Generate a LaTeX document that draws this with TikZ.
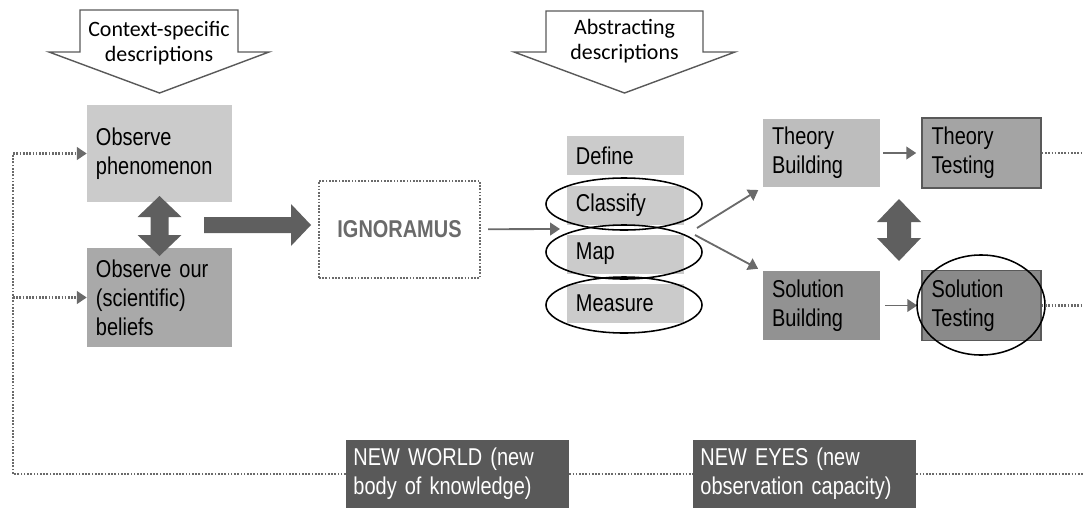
\documentclass[tikz,border=0pt]{standalone}
\usepackage{fontspec}
\usetikzlibrary{arrows.meta, shapes.geometric}
\newfontfamily\calib{Carlito}
\newfontfamily\narrow[FakeStretch=0.82]{Liberation Sans}
\newcommand{\narrowtext}{\narrow\fontsize{17.3}{20.5}\selectfont\fontdimen2\font=3.2pt\relax}
\definecolor{boxlight}{HTML}{CBCBCB}
\definecolor{boxmid}{HTML}{A9A9A9}
\definecolor{theolight}{HTML}{BDBDBD}
\definecolor{theodark}{HTML}{A4A4A4}
\definecolor{sollight}{HTML}{929292}
\definecolor{soldark}{HTML}{8A8A8A}
\definecolor{newgray}{HTML}{595959}
\definecolor{fatgray}{HTML}{5F5F5F}
\definecolor{linkgray}{HTML}{6A6A6A}
\definecolor{dotgray}{HTML}{6A6A6A}

\begin{document}
\begin{tikzpicture}[x=0.025cm, y=-0.025cm,
  box/.style={rectangle, inner xsep=0.225cm, inner ysep=0pt, align=left, font=\narrowtext},
  listbox/.style={box, fill=boxlight, minimum width=2.925cm, text width=2.475cm, minimum height=0.975cm},
  stagebox/.style={box, minimum width=2.925cm, text width=2.475cm, minimum height=1.7cm},
  testbox/.style={box, draw=newgray, line width=1.1pt, minimum width=2.975cm, text width=2.5cm, minimum height=1.75cm},
  newbox/.style={box, fill=newgray, text=white, minimum width=5.575cm, text width=5.2cm, minimum height=1.7cm, inner xsep=0.18cm},
  ring/.style={ellipse, draw, line width=1.1pt},
  desc/.style={align=center, font=\calib\fontsize{15.6}{17.4}\selectfont},
  outline/.style={draw=newgray, line width=1pt},
  link/.style={draw=linkgray, line width=1.3pt, -{Triangle[length=7pt,width=9pt]}},
  loopline/.style={draw=dotgray, line width=1.6pt, dash pattern=on 1.2pt off 1.1pt},
  fatlink/.style={fill=fatgray}]
  \useasboundingbox (0,0) rectangle (1083,507);

  % description arrows
  \draw[outline] (80,10) -- (238,10) -- (238,52) -- (269,52) -- (159.5,93) -- (49,52) -- (80,52) -- cycle;
  \node[desc] (ctxdesc) at (159,43) {Context-specific\\descriptions};
  \draw[outline] (546,11) -- (703,11) -- (703,52) -- (735,52) -- (624.5,93) -- (514,52) -- (546,52) -- cycle;
  \node[desc] (absdesc) at (624.5,41) {Abstracting\\descriptions};

  % observation
  \node[box, fill=boxlight, minimum width=3.625cm, text width=3.175cm, minimum height=2.425cm] (obsphen) at (159.5,153.5) {Observe\\phenomenon};
  \node[box, fill=boxmid, minimum width=3.625cm, text width=3.175cm, minimum height=2.475cm] (obsbel) at (159.5,297.5) {Observe our\\(scientific)\\beliefs};
  \fill[fatlink] (159.5,196) -- (181.5,217) -- (168.5,217) -- (168.5,235) -- (181.5,235) -- (159.5,256)
    -- (137.5,235) -- (150.5,235) -- (150.5,217) -- (137.5,217) -- cycle;

  \node[rectangle, draw=dotgray, line width=1.6pt, dash pattern=on 1.2pt off 1.1pt, minimum width=4.025cm, minimum height=2.425cm, text=linkgray, font=\narrowtext\bfseries] (ignor) at (399.5,229.5) {IGNORAMUS};
  \fill[fatlink] (204,217) -- (291,217) -- (291,204) -- (311,225) -- (291,246) -- (291,233) -- (204,233) -- cycle;

  % define, classify, map, measure
  \node[listbox] (define) at (625.5,155.5) {Define};
  \node[listbox] (classify) at (625.5,205.5) {Classify};
  \node[listbox] (map) at (625.5,254) {Map};
  \node[listbox] (measure) at (625.5,303.5) {Measure};
  \node[ring, minimum width=3.9cm, minimum height=1.3cm] (classring) at (624,204) {};
  \node[ring, minimum width=3.9cm, minimum height=1.35cm] (mapring) at (624,252) {};
  \node[ring, minimum width=3.9cm, minimum height=1.4cm] (measring) at (624,305) {};
  \coordinate (listin) at (560,229);
  \draw[link, shorten <=0.175cm] (ignor) -- (listin);

  % theory and solution
  \node[stagebox, fill=theolight] (theobuild) at (821.5,153) {Theory\\Building};
  \node[testbox, fill=theodark] (theotest) at (981.5,153) {Theory\\Testing};
  \node[stagebox, fill=sollight] (solbuild) at (821.5,305.5) {Solution\\Building};
  \node[testbox, fill=soldark] (soltest) at (981.5,305.5) {Solution\\Testing};
  \coordinate (classout) at (697,228);
  \coordinate (mapout) at (695,235);
  \draw[link, shorten >=0.13cm] (classout) -- (theobuild.south west);
  \draw[link, shorten >=0.13cm] (mapout) -- (solbuild.north west);
  \draw[link, shorten <=0.075cm, shorten >=0.125cm] (theobuild) -- (theotest);
  \draw[link, shorten <=0.125cm, shorten >=0.1cm] (solbuild) -- (soltest);
  \fill[fatlink] (899,199) -- (921,222) -- (911,222) -- (911,238) -- (921,238) -- (899,261)
    -- (877,238) -- (887,238) -- (887,222) -- (877,222) -- cycle;
  \node[ring, minimum width=3.2cm, minimum height=2.5cm] (solring) at (981,305) {};

  % new world, new eyes
  \node[newbox] (newworld) at (457.5,474) {NEW WORLD (new\\body of knowledge)};
  \node[newbox] (neweyes) at (804.5,474) {NEW EYES (new\\observation capacity)};

  % dotted feedback
  \coordinate (loopcorner) at (13,474);
  \coordinate (rimT) at (1083,153);
  \coordinate (rimS) at (1083,305.5);
  \coordinate (rimB) at (1083,474);
  \draw[loopline, -{Triangle[length=7pt,width=9pt]}] (newworld.west) -- (loopcorner) |- (obsphen.west);
  \draw[loopline, -{Triangle[length=7pt,width=9pt]}] (loopcorner |- obsbel.west) -- (obsbel.west);
  \draw[loopline] (newworld) -- (neweyes);
  \draw[loopline] (neweyes) -- (rimB);
  \draw[loopline] (theotest) -- (rimT);
  \draw[loopline] (soltest) -- (rimS);
\end{tikzpicture}
\end{document}
